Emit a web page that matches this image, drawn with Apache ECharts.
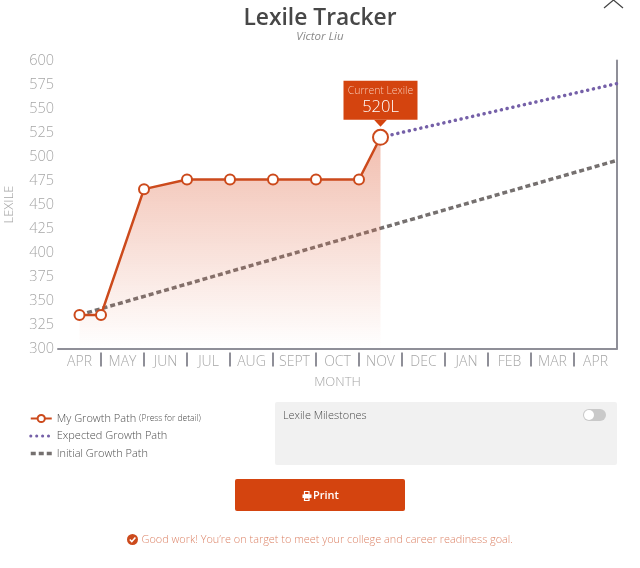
<!DOCTYPE html>
<html>
<head>
<meta charset="utf-8">
<title>Lexile Tracker</title>
<script src="https://cdn.jsdelivr.net/npm/echarts@6/dist/echarts.min.js"></script>
<style>
html, body { margin: 0; padding: 0; background: #fff; }
#chart { width: 640px; height: 568px; }
</style>
</head>
<body>
<div id="chart"></div>
<script>
const months = ['APR', 'MAY', 'JUN', 'JUL', 'AUG', 'SEPT', 'OCT', 'NOV', 'DEC', 'JAN', 'FEB', 'MAR', 'APR'];
const monthTicks = [1, 2, 3, 4, 5, 6, 7, 8, 9, 10, 11, 12];
const growthX = [0.5, 1, 2, 3, 4, 5, 6, 7, 7.5];
const growthY = [335, 335, 466, 476, 476, 476, 476, 476, 520];
const expectedX = [7.5, 13];
const expectedY = [520, 576];
const initialX = [0.5, 13];
const initialY = [335, 496];

const font = '"Open Sans", sans-serif';
const orange = '#d4440f';
const lineOrange = '#cc4a1c';
const axisGrey = '#8f8f98';
const labelGrey = '#a6a6a6';
const dotted = [0.1, 5.8];
const dashed = [5, 3];

const zip = (xs, ys) => xs.map((x, i) => [x, ys[i]]);

const chart = echarts.init(document.getElementById('chart'));

chart.setOption({
    animation: false,
    textStyle: {fontFamily: font},
    title: {
        text: 'Lexile Tracker',
        subtext: 'Victor Liu',
        left: 'center',
        top: 2,
        itemGap: 1,
        textStyle: {fontFamily: font, fontSize: 22.8, fontWeight: 600, color: '#474747'},
        subtextStyle: {fontFamily: font, fontSize: 11.5, fontStyle: 'italic', color: '#8a8a8a'}
    },
    grid: {left: 58, right: 23, top: 60.5, bottom: 219.5, containLabel: false, outerBoundsMode: 'none'},
    legend: {
        orient: 'vertical',
        left: 24,
        top: 408,
        itemWidth: 21,
        itemHeight: 9,
        itemGap: 6.5,
        data: [
            {name: 'My Growth Path'},
            {name: 'Expected Growth Path', itemStyle: {opacity: 0}, lineStyle: {width: 3, type: dotted, cap: 'round'}},
            {name: 'Initial Growth Path', itemStyle: {opacity: 0}, lineStyle: {width: 3.5, type: dashed}}
        ],
        formatter: name => name === 'My Growth Path' ? name + ' {small|(Press for detail)}' : name,
        textStyle: {
            fontFamily: font,
            fontSize: 11,
            fontWeight: 300,
            color: '#4d4d4d',
            rich: {small: {fontFamily: font, fontSize: 8.5, color: '#4d4d4d'}}
        }
    },
    xAxis: [
        {
            type: 'value', min: 0, max: 13, position: 'bottom',
            axisLine: {show: true, onZero: false, lineStyle: {color: axisGrey, width: 2}},
            axisTick: {show: false}, axisLabel: {show: false}, splitLine: {show: false}
        },
        {
            type: 'value', min: 0, max: 13, position: 'bottom', offset: 4,
            axisLine: {show: false, onZero: false},
            axisTick: {show: true, length: 14, customValues: monthTicks, lineStyle: {color: axisGrey, width: 2}},
            axisLabel: {show: false}, splitLine: {show: false}
        },
        {
            type: 'category', data: months, boundaryGap: true, position: 'bottom',
            axisLine: {show: false, onZero: false}, axisTick: {show: false},
            axisLabel: {interval: 0, margin: 7, fontFamily: font, fontSize: 14, fontWeight: 300, color: labelGrey},
            name: 'MONTH', nameLocation: 'middle', nameGap: 27,
            nameTextStyle: {fontFamily: font, fontSize: 13, fontWeight: 300, color: labelGrey}
        }
    ],
    yAxis: [
        {
            type: 'value', min: 300, max: 600, interval: 25, position: 'left',
            axisLine: {show: false, onZero: false}, axisTick: {show: false}, splitLine: {show: false},
            axisLabel: {margin: 4, padding: [2, 0, 0, 0], fontFamily: font, fontSize: 14.5, fontWeight: 300, color: labelGrey},
            name: 'LEXILE', nameLocation: 'middle', nameGap: 42,
            nameTextStyle: {fontFamily: font, fontSize: 13, fontWeight: 300, color: labelGrey}
        },
        {
            type: 'value', min: 300, max: 600, position: 'right',
            axisLine: {show: true, onZero: false, lineStyle: {color: axisGrey, width: 2}},
            axisTick: {show: false}, axisLabel: {show: false}, splitLine: {show: false}
        }
    ],
    series: [
        {
            name: 'Initial Growth Path',
            type: 'line',
            z: 2,
            symbol: 'none',
            data: zip(initialX, initialY),
            lineStyle: {color: '#75706f', width: 3.5, type: dashed},
            itemStyle: {color: '#75706f'}
        },
        {
            name: 'Expected Growth Path',
            type: 'line',
            z: 2,
            symbol: 'none',
            data: zip(expectedX, expectedY),
            lineStyle: {color: '#7560a8', width: 3.5, type: dotted, cap: 'round'},
            itemStyle: {color: '#7560a8'}
        },
        {
            name: 'My Growth Path',
            type: 'line',
            z: 3,
            symbol: 'circle',
            symbolSize: 10,
            data: zip(growthX, growthY).map((p, i) => ({
                value: p,
                symbolSize: i === growthX.length - 1 ? 15 : 10
            })),
            lineStyle: {color: lineOrange, width: 2.5},
            itemStyle: {color: '#fff', borderColor: lineOrange, borderWidth: 2},
            areaStyle: {
                origin: 'start',
                color: new echarts.graphic.LinearGradient(0, 0, 0, 1, [
                    {offset: 0, color: 'rgba(224,105,70,0.62)'},
                    {offset: 1, color: 'rgba(224,105,70,0)'}
                ])
            },
            markPoint: {
                silent: true,
                data: [
                    {
                        coord: [growthX[growthX.length - 1], growthY[growthY.length - 1]],
                        symbol: 'triangle',
                        symbolRotate: 180,
                        symbolSize: [13, 7],
                        symbolOffset: [0, -14],
                        itemStyle: {color: orange, borderWidth: 0},
                        label: {show: false}
                    },
                    {
                        coord: [growthX[growthX.length - 1], growthY[growthY.length - 1]],
                        symbol: 'rect',
                        symbolSize: [74, 39],
                        symbolOffset: [0, -37],
                        itemStyle: {color: orange, borderWidth: 0},
                        label: {
                            show: true,
                            position: 'inside',
                            formatter: '{a|Current Lexile}\n{b|' + growthY[growthY.length - 1] + 'L}',
                            rich: {
                                a: {fontFamily: font, fontSize: 10.4, fontWeight: 300, color: '#f6c9b5', lineHeight: 14, align: 'center'},
                                b: {fontFamily: font, fontSize: 16.5, fontWeight: 300, color: '#fff', lineHeight: 18, align: 'center'}
                            }
                        }
                    }
                ]
            }
        }
    ],
    graphic: [
        // close chevron
        {type: 'polyline', shape: {points: [[604, 8], [613.5, 0], [623, 8]]}, style: {fill: null, stroke: '#444', lineWidth: 1.2}},
        // milestones panel
        {type: 'rect', shape: {x: 275, y: 402, width: 342, height: 63, r: 2}, style: {fill: '#f1f1f1'}},
        {type: 'text', x: 283, y: 410, style: {text: 'Lexile Milestones', fill: '#4d4d4d', font: '300 10.9px ' + font}},
        {type: 'rect', shape: {x: 583, y: 409, width: 23, height: 12, r: 6}, style: {fill: '#c9c9c9'}},
        {type: 'circle', shape: {cx: 589, cy: 415, r: 5}, style: {fill: '#fff'}},
        // print button
        {type: 'rect', shape: {x: 235, y: 479, width: 170, height: 32, r: 2}, style: {fill: orange}},
        {type: 'rect', shape: {x: 304.5, y: 491.5, width: 4.5, height: 3}, style: {fill: null, stroke: '#fff', lineWidth: 1.2}},
        {type: 'rect', shape: {x: 302.5, y: 494.5, width: 9, height: 3.5}, style: {fill: '#fff'}},
        {type: 'rect', shape: {x: 304.5, y: 498, width: 4.5, height: 2.5}, style: {fill: null, stroke: '#fff', lineWidth: 1.2}},
        {type: 'text', x: 313, y: 490, style: {text: 'Print', fill: '#fff', font: '600 11px ' + font}},
        // status message
        {type: 'circle', shape: {cx: 132.5, cy: 539.5, r: 5.5}, style: {fill: lineOrange}},
        {type: 'polyline', shape: {points: [[129.8, 539.5], [131.8, 541.6], [135.4, 537.6]]}, style: {fill: null, stroke: '#fff', lineWidth: 1.5}},
        {type: 'text', x: 141.5, y: 534, style: {text: 'Good work! You\u2019re on target to meet your college and career readiness goal.', fill: '#dc8468', font: '300 10.9px ' + font}}
    ]
});

window.addEventListener('resize', function () {
    chart.resize();
});
</script>
</body>
</html>
